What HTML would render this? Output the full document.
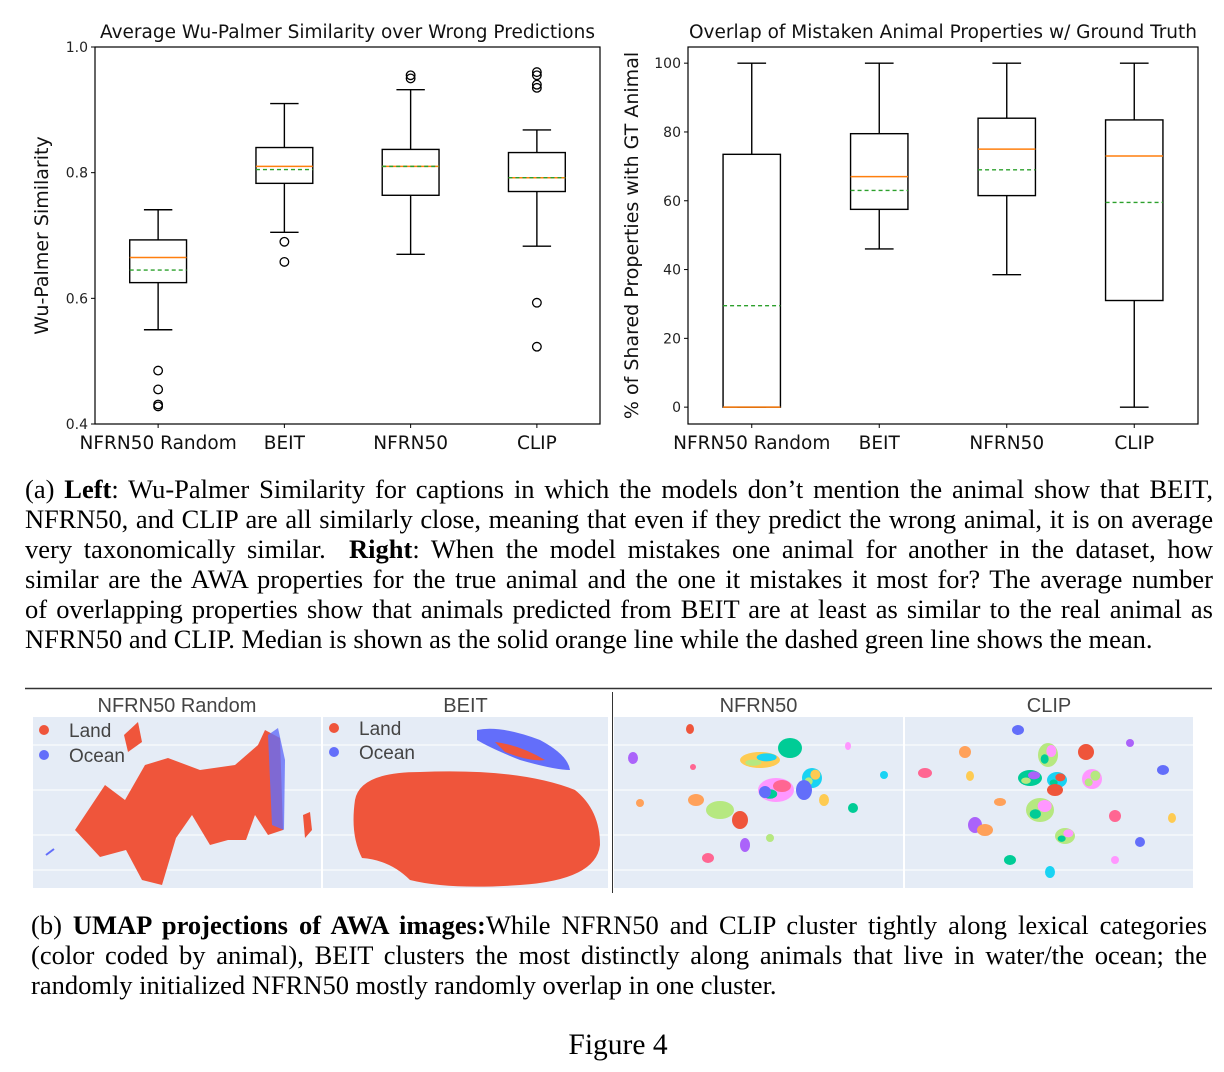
<!DOCTYPE html>
<html><head><meta charset="utf-8">
<style>
body{margin:0;background:#fff;width:1224px;height:1072px;overflow:hidden;position:relative;font-family:"DejaVu Sans","Liberation Sans",sans-serif}
.ln{position:absolute;font-family:"Liberation Serif",serif;font-size:26.5px;line-height:30px;height:30px;color:#000;text-align:justify;text-align-last:justify;white-space:normal;overflow:visible}
.ln.l{text-align-last:left}
</style></head><body>
<svg id="figsvg" width="1224" height="1072" style="position:absolute;left:0;top:0" font-family="DejaVu Sans, Liberation Sans, sans-serif">
<g id="leftchart"></g>
<g id="rightchart"></g>
<g id="umap"></g>
</svg>
<div>
<div class="ln" style="left:25px;top:474px;width:1188px">(a) <b>Left</b>: Wu-Palmer Similarity for captions in which the models don’t mention the animal show that BEIT,</div>
<div class="ln" style="left:25px;top:504px;width:1188px;word-spacing:-4px;letter-spacing:-0.1px">NFRN50, and CLIP are all similarly close, meaning that even if they predict the wrong animal, it is on average</div>
<div class="ln" style="left:25px;top:534px;width:1188px">very taxonomically similar. &nbsp;<b>Right</b>: When the model mistakes one animal for another in the dataset, how</div>
<div class="ln" style="left:25px;top:564px;width:1188px">similar are the AWA properties for the true animal and the one it mistakes it most for? The average number</div>
<div class="ln" style="left:25px;top:594px;width:1188px">of overlapping properties show that animals predicted from BEIT are at least as similar to the real animal as</div>
<div class="ln l" style="left:25px;top:624px;width:1188px">NFRN50 and CLIP. Median is shown as the solid orange line while the dashed green line shows the mean.</div>
</div>
<div>
<div class="ln" style="left:31px;top:910px;width:1176px">(b) <b>UMAP projections of AWA images:</b>While NFRN50 and CLIP cluster tightly along lexical categories</div>
<div class="ln" style="left:31px;top:940px;width:1176px">(color coded by animal), BEIT clusters the most distinctly along animals that live in water/the ocean; the</div>
<div class="ln l" style="left:31px;top:970px;width:1176px">randomly initialized NFRN50 mostly randomly overlap in one cluster.</div>
</div>
<div class="ln l" style="left:0;top:1030px;width:1236px;text-align:center;text-align-last:center;font-size:29.5px">Figure 4</div>
<script>
const NS='http://www.w3.org/2000/svg';
// ---- data ----
const categories=['NFRN50 Random','BEIT','NFRN50','CLIP'];
const wpWhiskerHigh=[0.741,0.910,0.932,0.868];
const wpQ3=[0.693,0.840,0.837,0.832];
const wpMedian=[0.665,0.810,0.810,0.792];
const wpMean=[0.645,0.805,0.810,0.792];
const wpQ1=[0.625,0.783,0.764,0.770];
const wpWhiskerLow=[0.550,0.705,0.670,0.683];
const wpOutliers=[[0.485,0.455,0.431,0.428],[0.690,0.658],[0.955,0.950],[0.960,0.955,0.940,0.935,0.593,0.523]];
const wpTicks=[0.4,0.6,0.8,1.0];
const wpTickLabels=['0.4','0.6','0.8','1.0'];
const ovWhiskerHigh=[100,100,100,100];
const ovQ3=[73.5,79.5,84,83.5];
const ovMedian=[0,67,75,73];
const ovMean=[29.5,63,69,59.5];
const ovQ1=[0,57.5,61.5,31];
const ovWhiskerLow=[0,46,38.5,0];
const ovOutliers=[[],[],[],[]];
const ovTicks=[0,20,40,60,80,100];
const ovTickLabels=['0','20','40','60','80','100'];

function el(tag,attrs,parent){const e=document.createElementNS(NS,tag);for(const k in attrs)e.setAttribute(k,attrs[k]);parent.appendChild(e);return e;}

function boxChart(g,o){
  const {x0,x1,y0,y1,vmin,vmax,title,ylabel,ylx,hi,q3,med,mean,q1,lo,out,ticks,tickLabels,tickFont}=o;
  const ys=v=>y1-(v-vmin)/(vmax-vmin)*(y1-y0);
  const step=(x1-x0)/categories.length;
  const xs=i=>x0+step*(i+0.5);
  const fr=el('rect',{x:x0,y:y0,width:x1-x0,height:y1-y0,fill:'none',stroke:'#000','stroke-width':1.2},g);
  
  const tt=el('text',{x:(x0+x1)/2,y:y0-9,'text-anchor':'middle','font-size':18.5,fill:'#111'},g);tt.textContent=title;
  
  ticks.forEach((t,i)=>{const y=ys(t);el('line',{x1:x0-4,x2:x0,y1:y,y2:y,stroke:'#000'},g);
    const l=el('text',{x:x0-7,y:y+5,'text-anchor':'end','font-size':tickFont,fill:'#222'},g);l.textContent=tickLabels[i];
    });
  const yl=el('text',{transform:`translate(${ylx},${(y0+y1)/2}) rotate(-90)`,'text-anchor':'middle','font-size':19,fill:'#111'},g);yl.textContent=ylabel;
  
  categories.forEach((c,i)=>{const x=xs(i);const bw=step*0.45;
    el('line',{x1:x,x2:x,y1:y1,y2:y1+4,stroke:'#000'},g);
    const l=el('text',{x:x,y:y1+25,'text-anchor':'middle','font-size':18.5,fill:'#111'},g);l.textContent=c;
    
    const b=el('g',{},g);
    const s={stroke:'#000','stroke-width':1.4,fill:'none'};
    el('line',{...s,x1:x,x2:x,y1:ys(hi[i]),y2:ys(q3[i])},b);
    el('line',{...s,x1:x,x2:x,y1:ys(lo[i]),y2:ys(q1[i])},b);
    el('line',{...s,x1:x-bw/4,x2:x+bw/4,y1:ys(hi[i]),y2:ys(hi[i])},b);
    el('line',{...s,x1:x-bw/4,x2:x+bw/4,y1:ys(lo[i]),y2:ys(lo[i])},b);
    el('rect',{...s,x:x-bw/2,y:ys(q3[i]),width:bw,height:Math.max(0.5,ys(q1[i])-ys(q3[i]))},b);
    el('line',{x1:x-bw/2,x2:x+bw/2,y1:ys(med[i]),y2:ys(med[i]),stroke:'#ff7f0e','stroke-width':1.5},b);
    el('line',{x1:x-bw/2,x2:x+bw/2,y1:ys(mean[i]),y2:ys(mean[i]),stroke:'#2ca02c','stroke-width':1.4,'stroke-dasharray':'4,3'},b);
    out[i].forEach(v=>{const c=el('circle',{cx:x,cy:ys(v),r:4.3,fill:'none',stroke:'#000','stroke-width':1.3},b);
      });
  });
}
boxChart(document.getElementById('leftchart'),{x0:95,x1:600,y0:47,y1:424,vmin:0.4,vmax:1.0,title:'Average Wu-Palmer Similarity over Wrong Predictions',ylabel:'Wu-Palmer Similarity',ylx:48,hi:wpWhiskerHigh,q3:wpQ3,med:wpMedian,mean:wpMean,q1:wpQ1,lo:wpWhiskerLow,out:wpOutliers,ticks:wpTicks,tickLabels:wpTickLabels,tickFont:14});
boxChart(document.getElementById('rightchart'),{x0:688,x1:1198,y0:47,y1:424,vmin:-4.9,vmax:104.7,title:'Overlap of Mistaken Animal Properties w/ Ground Truth',ylabel:'% of Shared Properties with GT Animal',ylx:638,hi:ovWhiskerHigh,q3:ovQ3,med:ovMedian,mean:ovMean,q1:ovQ1,lo:ovWhiskerLow,out:ovOutliers,ticks:ovTicks,tickLabels:ovTickLabels,tickFont:14});

// ---- UMAP panels (decorative scatter shapes) ----
const u=document.getElementById('umap');
el('line',{x1:25,x2:1212,y1:688.5,y2:688.5,stroke:'#333','stroke-width':1.5},u);
el('line',{x1:612.5,x2:612.5,y1:692,y2:893,stroke:'#333','stroke-width':1},u);
const panels=[[33,321,'NFRN50 Random'],[323,608,'BEIT'],[614,903,'NFRN50'],[905,1193,'CLIP']];
panels.forEach((p,i)=>{const r=el('rect',{x:p[0],y:717,width:p[1]-p[0],height:171,fill:'#e5ecf6'},u);
  
  [745,790,835,870].forEach(y=>el('line',{x1:p[0],x2:p[1],y1:y,y2:y,stroke:'#fff','stroke-width':1},u));
  const t=el('text',{x:(p[0]+p[1])/2,y:712,'text-anchor':'middle','font-size':20,fill:'#444','font-family':'Liberation Sans, sans-serif'},u);t.textContent=p[2];
  });
const red='#ef553b',blue='#636efa';
el('polygon',{points:'75,830 105,785 125,800 145,765 168,758 200,770 235,765 258,745 265,730 280,738 283,830 268,835 255,815 246,840 228,840 210,845 192,815 176,838 162,885 142,880 126,850 100,857',fill:red},u);
el('polygon',{points:'268,735 278,728 285,760 284,830 272,825',fill:blue,opacity:0.8},u);
el('polygon',{points:'124,735 138,722 142,742 128,752',fill:red},u);
el('polygon',{points:'303,815 310,812 312,830 305,838',fill:red},u);
el('line',{x1:46,x2:54,y1:855,y2:849,stroke:blue,'stroke-width':2},u);
el('path',{d:'M355,800 Q360,772 420,772 Q520,768 575,790 Q600,810 600,845 Q596,880 520,885 Q450,890 410,880 Q390,860 362,858 Q350,835 355,800Z',fill:red},u);
el('path',{d:'M477,730 Q500,725 540,740 Q568,755 570,770 Q555,770 520,760 Q490,748 477,740Z',fill:blue},u);
el('path',{d:'M495,742 Q520,745 545,760 Q530,762 505,752Z',fill:red},u);
[[44,730,red,'Land'],[44,755,blue,'Ocean'],[334,728,red,'Land'],[334,752,blue,'Ocean']].forEach(l=>{
  el('circle',{cx:l[0],cy:l[1],r:5,fill:l[2]},u);
  const t=el('text',{x:l[0]+25,y:l[1]+7,'font-size':19,fill:'#444','font-family':'Liberation Sans, sans-serif'},u);t.textContent=l[3];
  });
const cols=['#ef553b','#636efa','#00cc96','#ab63fa','#ffa15a','#19d3f3','#ff6692','#b6e880','#ff97ff','#fecb52'];
const blobs3=[[690,729,4,5],[633,758,5,6],[693,767,3,3],[760,760,20,8],[790,748,12,10],[812,778,10,10],[776,790,18,12],[804,790,8,10],[696,800,8,6],[720,810,14,9],[740,820,8,9],[745,845,5,7],[708,858,6,5],[824,800,5,6],[853,808,5,5],[884,775,4,4],[848,746,3,4],[765,792,6,6],[640,803,4,4],[770,838,4,4]];
const blobs4=[[1018,730,6,5],[965,752,6,6],[1048,755,10,12],[1086,752,8,8],[1130,743,4,4],[925,773,7,5],[970,776,4,5],[1030,778,12,8],[1057,780,10,8],[1092,779,10,10],[1163,770,6,5],[1000,802,6,4],[1040,810,14,12],[1055,790,8,6],[975,825,7,8],[1115,816,6,6],[1172,818,4,5],[1010,860,6,5],[1050,872,5,6],[1115,860,4,4],[1140,842,5,5],[985,830,8,6],[1065,836,10,8]];
[[blobs3,614],[blobs4,905]].forEach(([bs],k)=>bs.forEach((b,i)=>{
  el('ellipse',{cx:b[0],cy:b[1],rx:b[2],ry:b[3],fill:cols[(i*3+k)%cols.length]},u);
  if(b[2]>9){el('ellipse',{cx:b[0]+b[2]/3,cy:b[1]-b[3]/3,rx:b[2]/2,ry:b[3]/2,fill:cols[(i*7+4)%cols.length]},u);
    el('ellipse',{cx:b[0]-b[2]/3,cy:b[1]+b[3]/3,rx:b[2]/2.5,ry:b[3]/2.5,fill:cols[(i*5+2)%cols.length]},u);}
}));
</script>
</body></html>
